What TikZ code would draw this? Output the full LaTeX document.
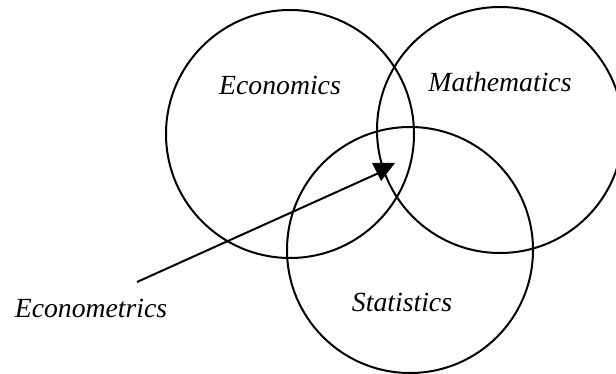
\documentclass[tikz,border=0pt]{standalone}
\usepackage{fontspec}
\setmainfont{Liberation Serif}
\begin{document}
\begin{tikzpicture}[x=0.5pt,y=-0.5pt,
  venn/.style={draw=black,line width=1pt,circle,inner sep=0pt,minimum size=#1},
  lbl/.style={anchor=base,inner sep=0pt,font=\fontsize{13.85}{16}\selectfont\itshape},
  conn/.style={draw=black,line width=1pt}]
\useasboundingbox (0,0) rectangle (616,374);
\node[venn=124pt] (econ) at (290,134) {};
\node[venn=123pt] (math) at (500,130) {};
\node[venn=123pt] (stat) at (410,250) {};
\node[lbl] (econlbl) at (280,95) {Economics};
\node[lbl] (mathlbl) at (500,92) {Mathematics};
\node[lbl] (statlbl) at (402,311) {Statistics};
\node[lbl] (metlbl) at (91,317) {Econometrics};
\coordinate (start) at (137,282);
\coordinate (tip) at (381,172);
\draw[conn] (start) -- (tip);
\fill[black] (372,163) -- (395,163) -- (381,181) -- cycle;
\end{tikzpicture}
\end{document}
